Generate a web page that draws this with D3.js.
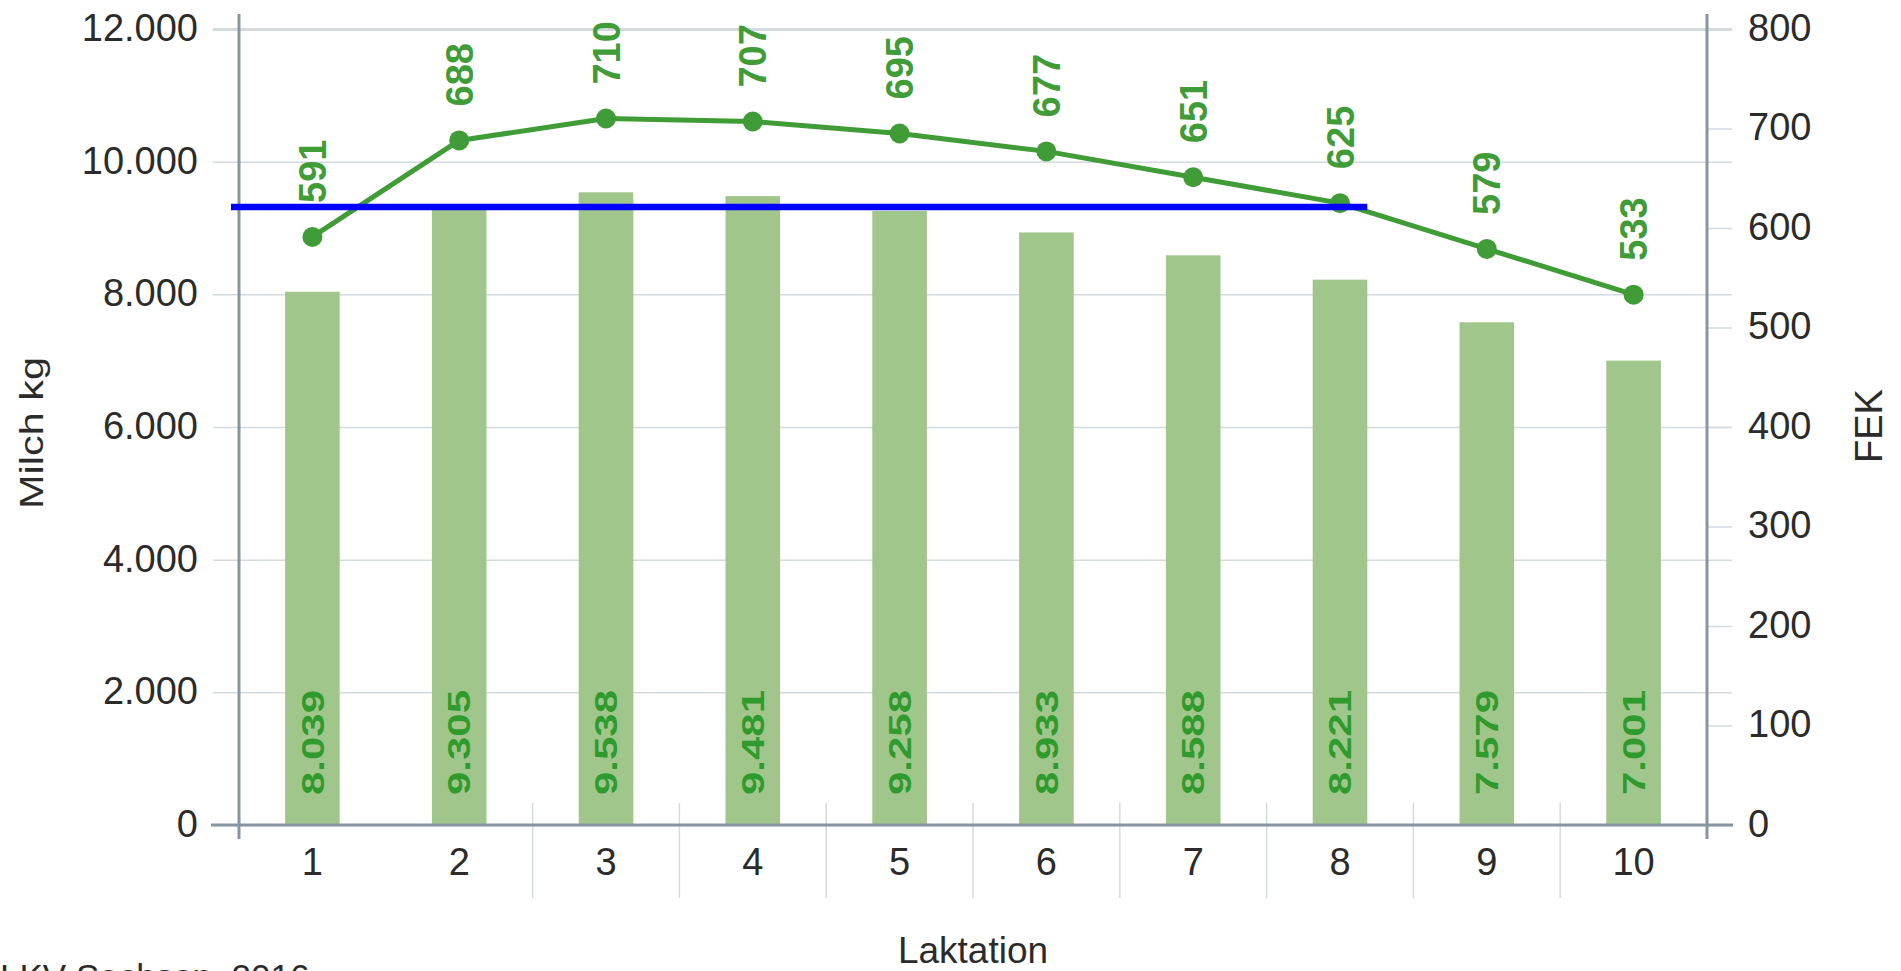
<!DOCTYPE html>
<html>
<head>
<meta charset="utf-8">
<script src="https://cdn.jsdelivr.net/npm/d3@7"></script>
<style>
  html, body { margin: 0; padding: 0; background: #fff; overflow: hidden; }
  svg { display: block; font-family: "Liberation Sans", Arial, Helvetica, sans-serif; }
</style>
</head>
<body>
<svg id="chart" width="1901" height="971"></svg>
<script>
// Milk yield (kg) and FEK per lactation number
const lactations = ["1", "2", "3", "4", "5", "6", "7", "8", "9", "10"];
const milkKg = [8039, 9305, 9538, 9481, 9258, 8933, 8588, 8221, 7579, 7001];
const fek = [591, 688, 710, 707, 695, 677, 651, 625, 579, 533];
const milkTicks = [0, 2000, 4000, 6000, 8000, 10000, 12000];
const fekTicks = [0, 100, 200, 300, 400, 500, 600, 700, 800];
const markerLevel = 621;      // FEK level of the blue reference line
const markerEndLactation = "8";
const sourceNote = "LKV Sachsen, 2016";

const svg = d3.select("#chart");
const plot = { left: 239, right: 1707, top: 29, bottom: 825 };

const x = d3.scaleBand().domain(lactations).range([plot.left, plot.right]);
const yMilk = d3.scaleLinear().domain([0, 12000]).range([plot.bottom, plot.top]);
const yFek = d3.scaleLinear().domain([0, 800]).range([plot.bottom, plot.top]);
const barW = x.step() * 0.372;
const cx = d => x(d) + x.bandwidth() / 2;

const de = d3.formatLocale({ decimal: ",", thousands: ".", grouping: [3], currency: ["", " €"] });
const fmt = de.format(",");

const axisColor = "#8795a1";
const gridColor = "#d3dae0";
const textColor = "#2b2b2b";
const barColor = "#a1c68c";
const lineColor = "#3f9c36";
const barLabelColor = "#2f9b2c";

// Horizontal grid + left ticks/labels (milk axis)
const leftAxis = d3.axisLeft(yMilk)
  .tickValues(milkTicks)
  .tickSize(plot.right + 25 - (plot.left - 26))
  .tickPadding(15)
  .tickFormat(fmt);
const gLeft = svg.append("g")
  .attr("transform", `translate(${plot.right + 25},0)`)
  .call(leftAxis);
gLeft.select(".domain").remove();
gLeft.selectAll(".tick line")
  .attr("stroke", gridColor)
  .attr("stroke-width", d => d === 12000 ? 3 : 1.5);
gLeft.selectAll(".tick text")
  .attr("fill", textColor)
  .attr("font-size", 38)
  .attr("dy", "0.3em");

// Right ticks/labels (FEK axis)
const rightAxis = d3.axisRight(yFek)
  .tickValues(fekTicks)
  .tickSize(25)
  .tickPadding(16);
const gRight = svg.append("g")
  .attr("transform", `translate(${plot.right},0)`)
  .call(rightAxis);
gRight.select(".domain").remove();
gRight.selectAll(".tick line")
  .attr("stroke", gridColor)
  .attr("stroke-width", d => d === 800 ? 3 : 1.5);
gRight.selectAll(".tick text")
  .attr("fill", textColor)
  .attr("font-size", 38)
  .attr("dy", "0.3em");

// Bars: milk yield
svg.append("g").selectAll("rect")
  .data(lactations)
  .join("rect")
  .attr("x", (d) => cx(d) - barW / 2)
  .attr("y", (d, i) => yMilk(milkKg[i]))
  .attr("width", barW)
  .attr("height", (d, i) => plot.bottom - yMilk(milkKg[i]))
  .attr("fill", barColor);

// Category separators below the x axis
svg.append("g").selectAll("line")
  .data(lactations.slice(2))
  .join("line")
  .attr("x1", d => x(d)).attr("x2", d => x(d))
  .attr("y1", plot.bottom - 22).attr("y2", plot.bottom + 73)
  .attr("stroke", gridColor)
  .attr("stroke-width", 1.5);

// X axis labels
const bottomAxis = d3.axisBottom(x).tickSize(0).tickPadding(23);
const gBottom = svg.append("g")
  .attr("transform", `translate(0,${plot.bottom})`)
  .call(bottomAxis);
gBottom.select(".domain").remove();
gBottom.selectAll(".tick text")
  .attr("fill", textColor)
  .attr("font-size", 38);

// Axis lines
const axes = svg.append("g").attr("stroke", axisColor).attr("stroke-width", 3);
axes.append("line")
  .attr("x1", plot.left).attr("x2", plot.left)
  .attr("y1", plot.top - 15).attr("y2", plot.bottom + 14);
axes.append("line")
  .attr("x1", plot.right).attr("x2", plot.right)
  .attr("y1", plot.top - 15).attr("y2", plot.bottom + 14);
axes.append("line")
  .attr("x1", plot.left - 28).attr("x2", plot.right + 26)
  .attr("y1", plot.bottom).attr("y2", plot.bottom);

// FEK line with markers
const line = d3.line()
  .x((d, i) => cx(lactations[i]))
  .y(d => yFek(d));
svg.append("path")
  .datum(fek)
  .attr("d", line)
  .attr("fill", "none")
  .attr("stroke", lineColor)
  .attr("stroke-width", 5)
  .attr("stroke-linejoin", "round");
svg.append("g").selectAll("circle")
  .data(fek)
  .join("circle")
  .attr("cx", (d, i) => cx(lactations[i]))
  .attr("cy", d => yFek(d))
  .attr("r", 10)
  .attr("fill", lineColor);

// Blue reference line
svg.append("line")
  .attr("x1", plot.left - 8)
  .attr("x2", cx(markerEndLactation) + barW / 2)
  .attr("y1", yFek(markerLevel))
  .attr("y2", yFek(markerLevel))
  .attr("stroke", "#0000ff")
  .attr("stroke-width", 6.5);

// Value labels on bars
svg.append("g").selectAll("text")
  .data(milkKg)
  .join("text")
  .attr("transform", (d, i) => `translate(${cx(lactations[i])},${plot.bottom - 30}) rotate(-90)`)
  .attr("dy", "0.36em")
  .attr("text-anchor", "start")
  .attr("font-size", 31)
  .attr("font-weight", "bold")
  .attr("textLength", 105)
  .attr("lengthAdjust", "spacingAndGlyphs")
  .attr("fill", barLabelColor)
  .text(d => fmt(d));

// Value labels above FEK markers
svg.append("g").selectAll("text")
  .data(fek)
  .join("text")
  .attr("transform", (d, i) => `translate(${cx(lactations[i])},${yFek(d) - 34}) rotate(-90)`)
  .attr("dy", "0.36em")
  .attr("text-anchor", "start")
  .attr("font-size", 38)
  .attr("font-weight", "bold")
  .attr("fill", lineColor)
  .text(d => d);

// Axis titles
svg.append("text")
  .attr("transform", `translate(43,433) rotate(-90)`)
  .attr("text-anchor", "middle")
  .attr("font-size", 33)
  .attr("textLength", 152)
  .attr("lengthAdjust", "spacingAndGlyphs")
  .attr("fill", textColor)
  .text("Milch kg");
svg.append("text")
  .attr("transform", `translate(1882,426) rotate(-90)`)
  .attr("text-anchor", "middle")
  .attr("font-size", 38)
  .attr("fill", textColor)
  .text("FEK");
svg.append("text")
  .attr("x", (plot.left + plot.right) / 2)
  .attr("y", 963)
  .attr("text-anchor", "middle")
  .attr("font-size", 37)
  .attr("fill", textColor)
  .text("Laktation");

// Source note
svg.append("text")
  .attr("x", 0)
  .attr("y", 989)
  .attr("font-size", 35)
  .attr("fill", textColor)
  .text(sourceNote);
</script>
</body>
</html>
